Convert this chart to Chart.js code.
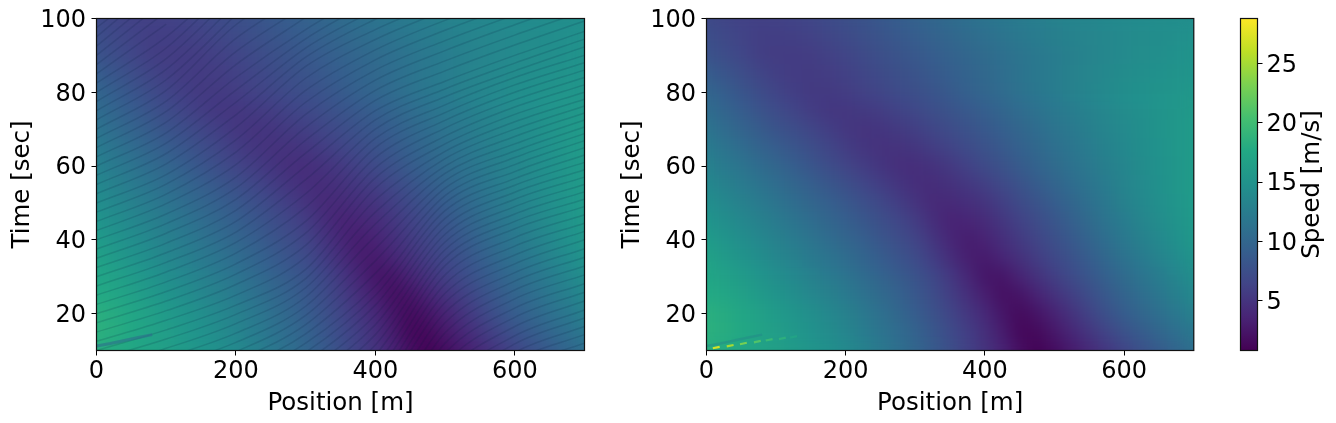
<!DOCTYPE html>
<html>
<head>
<meta charset="utf-8">
<title>Speed heatmaps</title>
<script src="https://cdn.jsdelivr.net/npm/chart.js@4"></script>
<style>
  body { margin: 0; background: #fff; width: 1336px; height: 423px; overflow: hidden; }
  canvas { position: absolute; top: 0; }
</style>
</head>
<body>
<canvas id="panel_left" width="610" height="423" style="left:0"></canvas>
<canvas id="panel_right" width="590" height="423" style="left:610px"></canvas>
<canvas id="panel_bar" width="136" height="423" style="left:1200px"></canvas>
<script>
// grid: columns are positions, rows are times
var positions = [0,25,50,75,100,125,150,175,200,225,250,275,300,325,350,375,400,425,450,475,500,525,550,575,600,625,650,675,700];
var times = [10,15,20,25,30,35,40,45,50,55,60,65,70,75,80,85,90,95,100];
var speeds = [
  [18.2,17.9,17.5,17.0,16.5,15.9,15.3,14.7,14.0,13.1,12.1,11.1,10.0,8.8,7.5,6.2,5.0,3.6,2.0,1.0,1.8,2.9,4.1,5.3,6.5,7.6,8.8,9.9,11.0],
  [18.4,18.1,17.5,16.9,16.3,15.6,14.9,14.2,13.5,12.6,11.6,10.6,9.6,8.4,7.1,5.9,4.6,3.0,1.4,1.5,2.6,3.9,5.2,6.5,7.8,8.9,10.0,11.0,12.0],
  [18.3,18.0,17.3,16.7,16.0,15.3,14.6,13.8,13.0,12.1,11.1,10.1,9.0,7.8,6.6,5.3,4.0,2.5,1.6,2.3,3.5,4.9,6.3,7.7,9.0,10.0,11.0,12.0,13.0],
  [17.8,17.3,16.6,15.9,15.2,14.5,13.7,13.0,12.2,11.3,10.4,9.5,8.5,7.3,6.0,4.6,3.2,2.0,2.3,3.5,4.8,6.0,7.3,8.6,9.8,10.8,11.8,12.8,13.8],
  [17.2,16.7,16.0,15.3,14.5,13.8,13.0,12.3,11.5,10.7,9.8,8.9,8.0,6.8,5.4,3.9,2.5,2.4,3.6,4.8,6.0,7.1,8.3,9.4,10.5,11.5,12.5,13.5,14.5],
  [16.8,16.0,15.2,14.5,13.7,13.0,12.2,11.5,10.8,9.9,9.0,8.1,7.2,5.9,4.5,3.2,2.8,3.7,4.7,5.8,6.8,7.9,9.0,10.2,11.3,12.2,13.2,14.1,15.0],
  [16.0,15.3,14.5,13.8,13.0,12.3,11.5,10.8,10.0,9.2,8.3,7.4,6.5,5.2,3.9,3.0,3.5,4.5,5.5,6.5,7.5,8.6,9.8,10.9,12.0,12.9,13.8,14.7,15.5],
  [15.3,14.5,13.8,13.0,12.3,11.5,10.8,10.0,9.2,8.4,7.5,6.7,5.8,4.5,3.5,3.7,4.2,5.2,6.2,7.2,8.2,9.3,10.4,11.5,12.5,13.4,14.2,15.0,15.8],
  [14.5,13.8,13.0,12.3,11.5,10.8,10.0,9.3,8.5,7.6,6.8,5.9,5.0,4.1,4.1,4.5,5.0,6.0,7.0,8.0,9.0,10.0,11.0,12.0,13.0,13.8,14.6,15.3,16.0],
  [13.8,13.0,12.3,11.5,10.8,10.0,9.2,8.4,7.5,6.7,5.9,5.1,4.5,4.4,4.7,5.3,6.0,6.9,7.9,8.9,9.8,10.7,11.6,12.4,13.3,14.0,14.7,15.4,16.0],
  [13.0,12.2,11.5,10.7,10.0,9.1,8.2,7.3,6.5,5.8,5.1,4.6,4.5,4.8,5.4,6.2,7.0,7.9,8.8,9.7,10.5,11.3,12.0,12.8,13.5,14.2,14.8,15.4,16.0],
  [12.3,11.5,10.7,9.8,9.0,8.2,7.4,6.6,5.8,5.2,4.8,4.9,5.2,5.8,6.4,7.1,7.8,8.6,9.4,10.2,11.0,11.7,12.4,13.1,13.8,14.4,14.9,15.5,16.0],
  [11.5,10.6,9.8,8.9,8.0,7.3,6.6,5.9,5.3,5.0,5.1,5.5,6.0,6.6,7.2,7.8,8.5,9.2,10.0,10.7,11.5,12.1,12.8,13.4,14.0,14.5,15.0,15.5,16.0],
  [10.8,9.9,9.0,8.1,7.2,6.5,5.8,5.3,5.3,5.5,5.8,6.3,6.8,7.4,8.0,8.6,9.2,9.9,10.6,11.3,12.0,12.6,13.1,13.7,14.2,14.6,15.0,15.4,15.8],
  [10.0,9.1,8.2,7.3,6.5,5.9,5.5,5.5,5.8,6.2,6.6,7.1,7.5,8.1,8.7,9.4,10.0,10.6,11.3,11.9,12.5,13.0,13.5,14.0,14.5,14.8,15.0,15.3,15.5],
  [9.0,8.2,7.4,6.6,6.0,5.7,5.6,5.8,6.1,6.6,7.0,7.5,8.0,8.6,9.1,9.7,10.2,10.8,11.4,12.0,12.5,13.0,13.4,13.8,14.2,14.5,14.8,15.0,15.2],
  [8.0,7.3,6.7,6.0,5.8,5.7,5.8,6.1,6.5,7.0,7.5,8.0,8.5,9.0,9.5,10.0,10.5,11.0,11.5,12.0,12.5,12.9,13.3,13.7,14.0,14.3,14.5,14.8,15.0],
  [7.5,6.9,6.4,6.0,5.9,6.0,6.2,6.6,7.0,7.5,8.0,8.5,9.0,9.5,10.0,10.5,11.0,11.5,12.0,12.4,12.8,13.1,13.4,13.7,14.0,14.2,14.4,14.6,14.8],
  [7.0,6.6,6.2,6.1,6.2,6.4,6.7,7.1,7.5,8.0,8.5,9.0,9.5,10.0,10.5,11.0,11.5,11.9,12.3,12.7,13.0,13.3,13.5,13.8,14.0,14.1,14.3,14.4,14.5]
];

// vehicle stripes on the left panel: time each one crosses these positions
var stripePositions = [0,100,200,300,400,500,600,700];
var stripeCrossings = [
  [-70,-64,-58,-48,-38,-10,5,12],
  [-67.5,-61.5,-55.5,-45.5,-35.3,-7.3,7.3,14.3],
  [-65,-59,-53,-43,-32.5,-4.5,9.5,16.5],
  [-62.5,-56.5,-50.5,-40.5,-29.8,-1.8,11.8,18.8],
  [-60,-54,-48,-38,-27,1,14,21],
  [-57.5,-51.5,-45.5,-35.5,-24.3,3.8,16.5,23.4],
  [-55,-49,-43,-33,-21.5,6.5,19,25.8],
  [-52.5,-46.5,-40.5,-30.5,-18.8,9.3,21.5,28.1],
  [-50,-44,-38,-28,-16,12,24,30.5],
  [-47.5,-41.5,-35.5,-25.5,-13,14.8,26.4,32.9],
  [-45,-39,-33,-23,-10,17.5,28.8,35.3],
  [-42.5,-36.5,-30.5,-20.5,-7,20.3,31.1,37.6],
  [-40,-34,-28,-18,-4,23,33.5,40],
  [-37.5,-31.5,-25.5,-15.5,-1.5,25.5,35.9,42.3],
  [-35,-29,-23,-13,1,28,38.3,44.5],
  [-32.5,-26.5,-20.5,-10.5,3.5,30.5,40.6,46.8],
  [-30,-24,-18,-8,6,33,43,49],
  [-27.5,-21.5,-15.5,-5.5,8.8,35.1,45,51],
  [-25,-19,-13,-3,11.5,37.3,47,53],
  [-22.5,-16.5,-10.5,-0.5,14.3,39.4,49,55],
  [-20,-14,-8,2,17,41.5,51,57],
  [-17.5,-11.6,-5.5,4.5,19.6,43.6,52.9,59],
  [-15,-9.2,-2.9,7,22.3,45.8,54.8,61],
  [-12.5,-6.8,-0.3,9.5,24.9,47.9,56.6,63],
  [-10,-4.4,2.3,12,27.5,50,58.5,65],
  [-7.5,-1.9,4.8,14.5,30.9,52,60.4,66.9],
  [-5,0.6,7.3,17,34.3,54,62.3,68.8],
  [-2.5,3.1,9.7,19.5,37.6,56,64.1,70.6],
  [0,5.6,12.2,22,41,58,66,72.5],
  [2.5,8.1,14.7,24.5,44.3,60,68,74.4],
  [5,10.6,17.3,27,47.5,62,70,76.3],
  [7.5,13.1,19.8,29.5,50.8,64,72,78.1],
  [10,15.6,22.3,32,54,66,74,80],
  [12.5,18.2,25,35.3,56.8,68.1,76,82],
  [15,20.8,27.9,38.5,59.5,70.3,78,84],
  [17.5,23.4,30.7,41.8,62.3,72.4,80,86],
  [20,26,33.5,45,65,74.5,82,88],
  [22.5,28.6,36.4,48.8,67.5,76.6,84,90],
  [25,31.3,39.3,52.5,70,78.8,85.8,92.3],
  [27.5,33.9,42.1,56.3,72.5,80.9,87.9,94.4],
  [30,36.5,45,60,75,83,90,96.5],
  [32.5,39.1,48,63.5,77.8,85.8,92.8,99.3],
  [35,41.8,51,67,80.5,88.5,95.5,102],
  [37.5,44.4,54,70.5,83.3,91.3,98.3,105],
  [40,47,57,74,86,94,101,107.5],
  [42.5,49.8,60.4,77.3,88.8,96.8,103.8],
  [45,52.4,63.8,80.5,91.5,99.5,106],
  [47.5,55.1,67.1,83.8,94.3,102.3],
  [50,57.7,70.5,87,97,105],
  [52.5,60.6,73.9,89.5,99.8,108],
  [55,63.4,77.3,92,102.5],
  [57.5,66.2,80.6,94.5,105.3],
  [60,69,84,97,108],
  [62.5,71.9,87.5,100.3],
  [65,74.8,91,103.5],
  [67.5,77.6,94.6,106.8],
  [70,80.5,98.3,110],
  [72.5,83.4,101],
  [75,86.2,104],
  [77.5,89.1,107],
  [80,92,110],
  [82.5,95,112],
  [85,98.5],
  [87.5,101.8],
  [90,105],
  [92.5,108],
  [95,111],
  [97.5,112]
];

// disturbance at the bottom left corner
var streakPositions = [0,20,40,60,80];
var streakTimes = [11.2,11.9,12.7,13.5,14.3];
var blobPositions = [14,34,53,73,90,109,125];
var blobTimes = [10.8,11.3,11.9,12.4,12.9,13.3,13.7];
var blobSpeeds = [27,25,23,21,19.5,18.5,17];

var xTicks = [0,200,400,600];
var yTicks = [20,40,60,80,100];
var barTicks = [5,10,15,20,25];
var speedMin = 0.8;
var speedMax = 28.8;
var viridis = ["#440154","#482475","#414487","#355f8d","#2a788e","#21918c","#22a884","#44bf70","#7ad151","#bddf26","#fde725"];

function speedColor(v) {
    var f = Math.max(0, Math.min(0.9999, (v - speedMin) / (speedMax - speedMin))) * (viridis.length - 1);
    var i = Math.floor(f), k = f - i;
    var a = viridis[i], b = viridis[i + 1], rgb = [];
    for (var c = 1; c < 7; c += 2) {
        var p = parseInt(a.substr(c, 2), 16), q = parseInt(b.substr(c, 2), 16);
        rgb.push(Math.round(p + (q - p) * k));
    }
    return "rgb(" + rgb.join(",") + ")";
}

var fontBase = { family: "'DejaVu Sans'", size: 24 };
var fontTitle = { family: "'DejaVu Sans'", size: 24.5 };
Chart.defaults.color = "#000";
Chart.defaults.font.family = fontBase.family;

// imshow style smoothing: once the last bar row is painted, blur the plot area as a whole
var softCells = {
    id: "softCells",
    afterDatasetDraw: function (chart, args) {
        var firstBar = chart.data.datasets.findIndex(function (d) { return d.type === "bar"; });
        if (args.index !== firstBar) return;
        var ctx = chart.ctx, a = chart.chartArea, c = chart.canvas;
        var w = a.right - a.left, h = a.bottom - a.top, pad = 40;
        // stretch the edges outwards so the blur does not pull in white
        ctx.drawImage(c, a.left, a.top, 1, h, a.left - pad, a.top, pad, h);
        ctx.drawImage(c, a.right - 1, a.top, 1, h, a.right, a.top, pad, h);
        ctx.drawImage(c, a.left - pad, a.top, w + 2 * pad, 1, a.left - pad, a.top - pad, w + 2 * pad, pad);
        ctx.drawImage(c, a.left - pad, a.bottom - 1, w + 2 * pad, 1, a.left - pad, a.bottom, w + 2 * pad, pad);
        ctx.save();
        ctx.beginPath();
        ctx.rect(a.left, a.top, w, h);
        ctx.clip();
        ctx.filter = "blur(8px)";
        ctx.drawImage(c, 0, 0);
        ctx.restore();
        ctx.clearRect(0, 0, c.width, a.top);
        ctx.clearRect(0, a.bottom, c.width, c.height - a.bottom);
        ctx.clearRect(0, 0, a.left, c.height);
        ctx.clearRect(a.right, 0, c.width - a.right, c.height);
    }
};
var frame = {
    id: "frame",
    afterDraw: function (chart) {
        var a = chart.chartArea, ctx = chart.ctx;
        ctx.save();
        ctx.strokeStyle = "#111";
        ctx.lineWidth = 1.2;
        ctx.strokeRect(a.left, a.top, a.right - a.left, a.bottom - a.top);
        ctx.restore();
    }
};
// digits sit a little high with a middle baseline, nudge the y labels down
var lowerLabels = {
    id: "lowerLabels",
    beforeDraw: function (chart) {
        chart.scales.y.getLabelItems().forEach(function (item) {
            item.options = Object.assign({}, item.options, { translation: [item.options.translation[0], item.options.translation[1] + 2] });
        });
    }
};

function fixedTicks(list) {
    return function (scale) {
        scale.ticks = list.map(function (v) { return { value: v }; });
    };
}

function cellDatasets() {
    return times.map(function (t, r) {
        return {
            type: "bar",
            order: 5,
            grouped: false,
            barPercentage: 1,
            categoryPercentage: 1,
            data: positions.map(function (p) { return { x: p, y: [t - 2.5, t + 2.5] }; }),
            backgroundColor: speeds[r].map(speedColor)
        };
    });
}

function stripeDatasets() {
    return stripeCrossings.map(function (row) {
        return {
            type: "line",
            order: 2,
            data: row.map(function (t, i) { return { x: stripePositions[i], y: t }; }),
            borderColor: "rgba(10,30,60,0.15)",
            borderWidth: 1.5,
            pointRadius: 0,
            cubicInterpolationMode: "monotone"
        };
    });
}

function streakDataset(color, width) {
    return {
        type: "line",
        order: 1,
        data: streakPositions.map(function (p, i) { return { x: p, y: streakTimes[i] }; }),
        borderColor: color,
        borderWidth: width,
        pointRadius: 0
    };
}

function makePanel(id, extra) {
    return new Chart(document.getElementById(id), {
        type: "bar",
        data: { datasets: extra.concat(cellDatasets()) },
        options: {
            responsive: false,
            animation: false,
            layout: { padding: { top: 18.5, right: id === "panel_left" ? 25.5 : 5.5, left: 0, bottom: 0 } },
            plugins: { legend: { display: false }, tooltip: { enabled: false } },
            scales: {
                x: {
                    type: "linear", min: 0, max: 700, offset: false,
                    grid: { z: 1, offset: false, drawOnChartArea: false, color: "#000", tickLength: 5, tickWidth: 1 },
                    border: { display: false, z: 1 },
                    afterBuildTicks: fixedTicks(xTicks),
                    afterFit: function (s) { s.height = 72.5; s.paddingLeft = 0; s.paddingRight = 0; },
                    ticks: { z: 1, font: fontBase, color: "#000", maxRotation: 0, padding: 2 },
                    title: { display: true, text: "Position [m]", font: fontTitle, color: "#000", padding: { top: 2, bottom: 5 } }
                },
                y: {
                    type: "linear", min: 10, max: 100,
                    grid: { z: 1, drawOnChartArea: false, color: "#000", tickLength: 5, tickWidth: 1 },
                    border: { display: false, z: 1 },
                    afterBuildTicks: fixedTicks(yTicks),
                    afterFit: function (s) { s.width = 96.5; s.paddingTop = 0; s.paddingBottom = 0; },
                    ticks: { z: 1, font: fontBase, color: "#000", padding: 5.5 },
                    title: { display: true, text: "Time [sec]", font: fontTitle, color: "#000", padding: { top: 8, bottom: 0 } }
                }
            }
        },
        plugins: [softCells, frame, lowerLabels]
    });
}

makePanel("panel_left", stripeDatasets().concat([streakDataset("rgba(45,110,140,0.6)", 3)]));

makePanel("panel_right", [{
    type: "scatter",
    order: 1,
    data: blobPositions.map(function (p, i) { return { x: p, y: blobTimes[i] }; }),
    pointStyle: "line",
    rotation: -12,
    pointRadius: 3.5,
    pointBorderWidth: 2.2,
    pointBorderColor: blobSpeeds.map(speedColor)
}, streakDataset("rgba(35,120,140,0.3)", 2.5)]);

// colour bar, one floating bar painted with the colour map
new Chart(document.getElementById("panel_bar"), {
    type: "bar",
    data: {
        labels: ["speed"],
        datasets: [{
            data: [[speedMin, speedMax]],
            barPercentage: 1,
            categoryPercentage: 1,
            backgroundColor: function (c) {
                var chart = c.chart;
                if (!chart.chartArea) return viridis[0];
                var g = chart.ctx.createLinearGradient(0, chart.chartArea.bottom, 0, chart.chartArea.top);
                viridis.forEach(function (col, i) { g.addColorStop(i / (viridis.length - 1), col); });
                return g;
            }
        }]
    },
    options: {
        responsive: false,
        animation: false,
        layout: { padding: { top: 18.5, left: 40.5, bottom: 72.5 } },
        plugins: { legend: { display: false }, tooltip: { enabled: false } },
        scales: {
            x: { display: false },
            y: {
                position: "right", min: speedMin, max: speedMax,
                grid: { drawOnChartArea: false, color: "#000", tickLength: 5, tickWidth: 1 },
                border: { display: false },
                afterBuildTicks: fixedTicks(barTicks),
                afterFit: function (s) { s.width = 78.5; s.paddingTop = 0; s.paddingBottom = 0; },
                ticks: { font: fontBase, color: "#000", padding: 4 }
            }
        }
    },
    plugins: [frame, lowerLabels, {
        id: "barLabel",
        afterDraw: function (chart) {
            var ctx = chart.ctx, a = chart.chartArea;
            ctx.save();
            ctx.translate(113, (a.top + a.bottom) / 2);
            ctx.rotate(-Math.PI / 2);
            ctx.font = "24.5px 'DejaVu Sans'";
            ctx.fillStyle = "#000";
            ctx.textAlign = "center";
            ctx.textBaseline = "middle";
            ctx.fillText("Speed [m/s]", 0, 0);
            ctx.restore();
        }
    }]
});
</script>
</body>
</html>
